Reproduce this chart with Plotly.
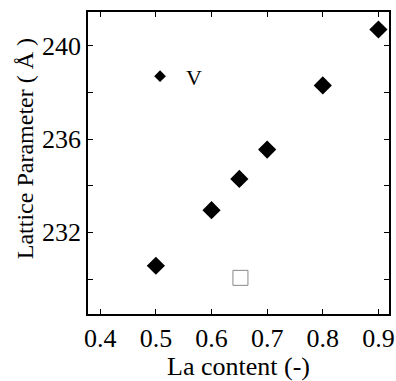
import plotly.graph_objects as go

# Data
la_content = [0.5, 0.6, 0.65, 0.7, 0.8, 0.9]
lattice_param = [230.57, 232.95, 234.29, 235.55, 238.30, 240.70]

open_box_x = [0.652]
open_box_y = [230.05]

series_name = "V"

x_ticks = [0.4, 0.5, 0.6, 0.7, 0.8, 0.9]
x_ticklabels = ["0.4", "0.5", "0.6", "0.7", "0.8", "0.9"]
y_ticks = [230, 232, 234, 236, 238, 240]
y_ticklabels = ["", "232", "", "236", "", "240"]

x_title = "La content (-)"
y_title = "Lattice Parameter ( Å )"

FONT = "Liberation Serif"

fig = go.Figure()
fig.add_trace(go.Scatter(
    x=la_content, y=lattice_param, mode="markers",
    marker=dict(symbol="diamond", size=14, color="black"),
    showlegend=False,
))
# legend entry (smaller marker)
fig.add_trace(go.Scatter(
    x=[None], y=[None], mode="markers", name=series_name,
    marker=dict(symbol="diamond", size=9, color="black"),
))
fig.add_trace(go.Scatter(
    x=open_box_x, y=open_box_y, mode="markers",
    marker=dict(symbol="square-open", size=15, color="#888888", line=dict(width=1)),
    showlegend=False,
))

fig.update_layout(
    template="none",
    width=396, height=381,
    margin=dict(l=88, r=7, t=12, b=67),
    paper_bgcolor="white", plot_bgcolor="white",
    xaxis=dict(range=[0.378, 0.919], tickvals=x_ticks, ticktext=x_ticklabels,
               title=dict(text=x_title, font=dict(family=FONT, size=26, color="black"), standoff=8)),
    yaxis=dict(range=[228.5, 241.45], tickvals=y_ticks, ticktext=y_ticklabels),
    showlegend=True,
    legend=dict(x=0.153, y=0.787, xanchor="left", yanchor="middle",
                bgcolor="rgba(0,0,0,0)", font=dict(family=FONT, size=22, color="black"),
                itemwidth=42),
    annotations=[dict(text=y_title, xref="paper", yref="paper",
                      x=-0.209, y=0.546, xanchor="center", yanchor="middle",
                      textangle=-90, showarrow=False,
                      font=dict(family=FONT, size=24, color="black"))],
)
fig.update_xaxes(showline=True, linecolor="black", linewidth=1.5, mirror="ticks",
                 ticks="inside", ticklen=5, tickwidth=1, tickcolor="black",
                 showgrid=False, zeroline=False,
                 tickfont=dict(family=FONT, size=26, color="black"))
fig.update_yaxes(showline=True, linecolor="black", linewidth=1.5, mirror="ticks",
                 ticks="inside", ticklen=5, tickwidth=1, tickcolor="black",
                 showgrid=False, zeroline=False,
                 tickfont=dict(family=FONT, size=26, color="black"))

fig.write_html("out.html")
